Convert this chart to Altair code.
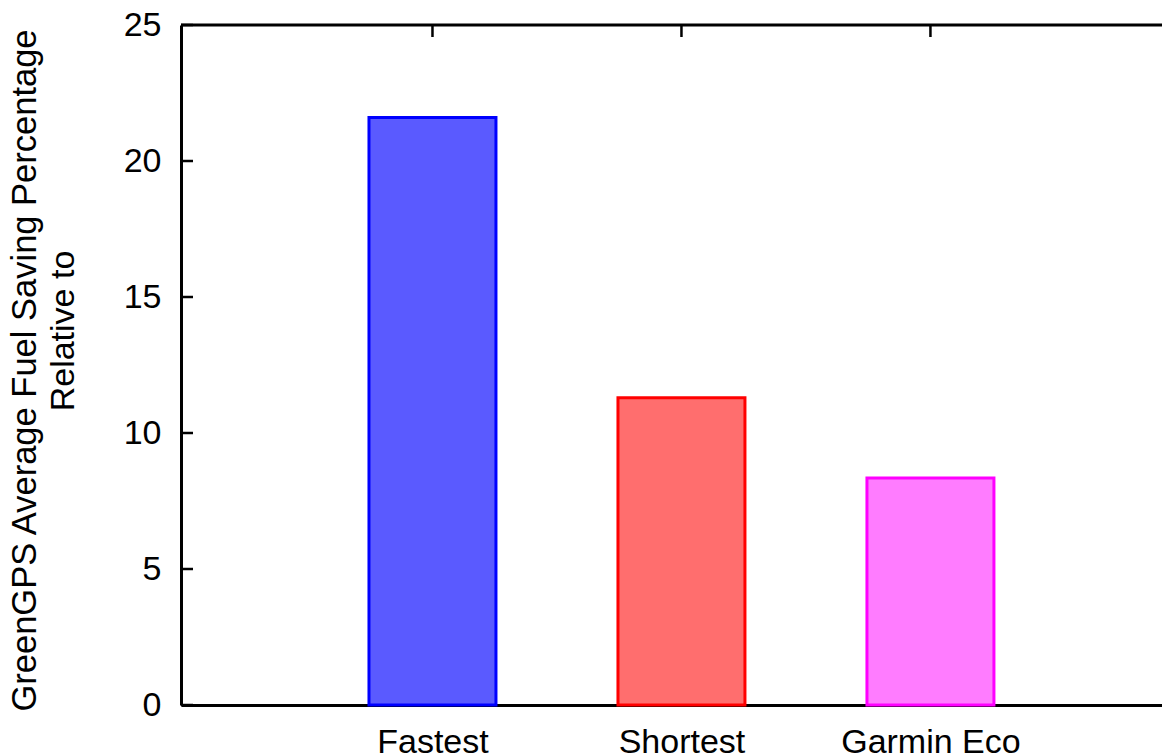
import altair as alt
import pandas as pd

# Average fuel saving of GreenGPS relative to each routing strategy (%)
categories = ["Fastest", "Shortest", "Garmin Eco"]
savings = [21.6, 11.3, 8.35]
edge_colors = ["#0000ff", "#ff0000", "#ff00ff"]
fill_colors = ["#5a5aff", "#ff6e6e", "#ff7cff"]
y_ticks = [0, 5, 10, 15, 20, 25]
y_title = "GreenGPS Average Fuel Saving Percentage"
y_title_2 = "Relative to"

FONT = "Liberation Sans"
PLOT_W, PLOT_H = 981, 680
BAR_HALF = 0.255

bars_df = pd.DataFrame({
    "category": categories,
    "saving": savings,
    "pos": list(range(len(categories))),
})
yticks_df = pd.DataFrame({"v": y_ticks})
title2_df = pd.DataFrame({"t": [y_title_2]})

x_scale = alt.Scale(domain=[-1.01, 2.93], nice=False, zero=False)
y_scale = alt.Scale(domain=[0, 25], nice=False)
label_expr = "[" + ",".join(f"'{c}'" for c in categories) + "][datum.value]"

# Inward tick marks on the left border
left_ticks = alt.Chart(yticks_df).mark_rule(color="black", strokeWidth=2.5).encode(
    y=alt.Y("v:Q", scale=y_scale,
            axis=alt.Axis(values=y_ticks, ticks=False, grid=False, domain=True,
                          domainColor="black", domainWidth=3,
                          labelFont=FONT, labelFontSize=34, labelColor="black",
                          labelPadding=20,
                          title=y_title,
                          titleFont=FONT, titleFontSize=34.5, titleFontWeight="normal",
                          titleColor="black", titleAngle=-90, titleAlign="center",
                          titleBaseline="top",
                          titleX=-173, titleY=345)),
    x=alt.value(0),
    x2=alt.value(12),
)

# Second line of the y-axis title
y_title_line2 = alt.Chart(title2_df).mark_text(
    font=FONT, fontSize=34, color="black",
    angle=270, align="center", baseline="alphabetic",
).encode(
    text="t:N",
    x=alt.value(-107),
    y=alt.value(306),
)

# Inward tick marks on the top border at each category
top_ticks = alt.Chart(bars_df).mark_rule(color="black", strokeWidth=2.5).encode(
    x=alt.X("pos:Q", scale=x_scale,
            axis=alt.Axis(values=list(range(len(categories))), labelExpr=label_expr,
                          ticks=False, grid=False, domain=True,
                          domainColor="black", domainWidth=3,
                          labelFont=FONT, labelFontSize=34, labelColor="black",
                          labelPadding=20, title=None)),
    y=alt.value(0),
    y2=alt.value(12),
)

bottom_ticks = alt.Chart(bars_df).mark_rule(color="black", strokeWidth=2.5).encode(
    x=alt.X("pos:Q", scale=x_scale),
    y=alt.value(PLOT_H - 12),
    y2=alt.value(PLOT_H),
)

# Top border line
top_border = alt.Chart(title2_df).mark_rule(color="black", strokeWidth=3).encode(
    x=alt.value(0),
    x2=alt.value(PLOT_W),
    y=alt.value(0),
)

bars = alt.Chart(bars_df).transform_calculate(
    lo=f"datum.pos - {BAR_HALF}",
    hi=f"datum.pos + {BAR_HALF}",
    base="0",
).mark_rect(strokeWidth=3).encode(
    x=alt.X("lo:Q", scale=x_scale),
    x2="hi:Q",
    y=alt.Y("saving:Q", scale=y_scale),
    y2="base:Q",
    fill=alt.Fill("category:N", scale=alt.Scale(domain=categories, range=fill_colors),
                  legend=None),
    stroke=alt.Stroke("category:N", scale=alt.Scale(domain=categories, range=edge_colors),
                      legend=None),
)

chart = alt.layer(left_ticks, y_title_line2, top_ticks, bottom_ticks, bars, top_border).properties(
    width=PLOT_W,
    height=PLOT_H,
    autosize=alt.AutoSizeParams(type="none"),
    padding={"left": 181, "top": 25, "right": 0, "bottom": 50},
    background="white",
).configure_view(stroke="transparent")

chart.save("out.html", embed_options={"renderer": "svg", "actions": False})
